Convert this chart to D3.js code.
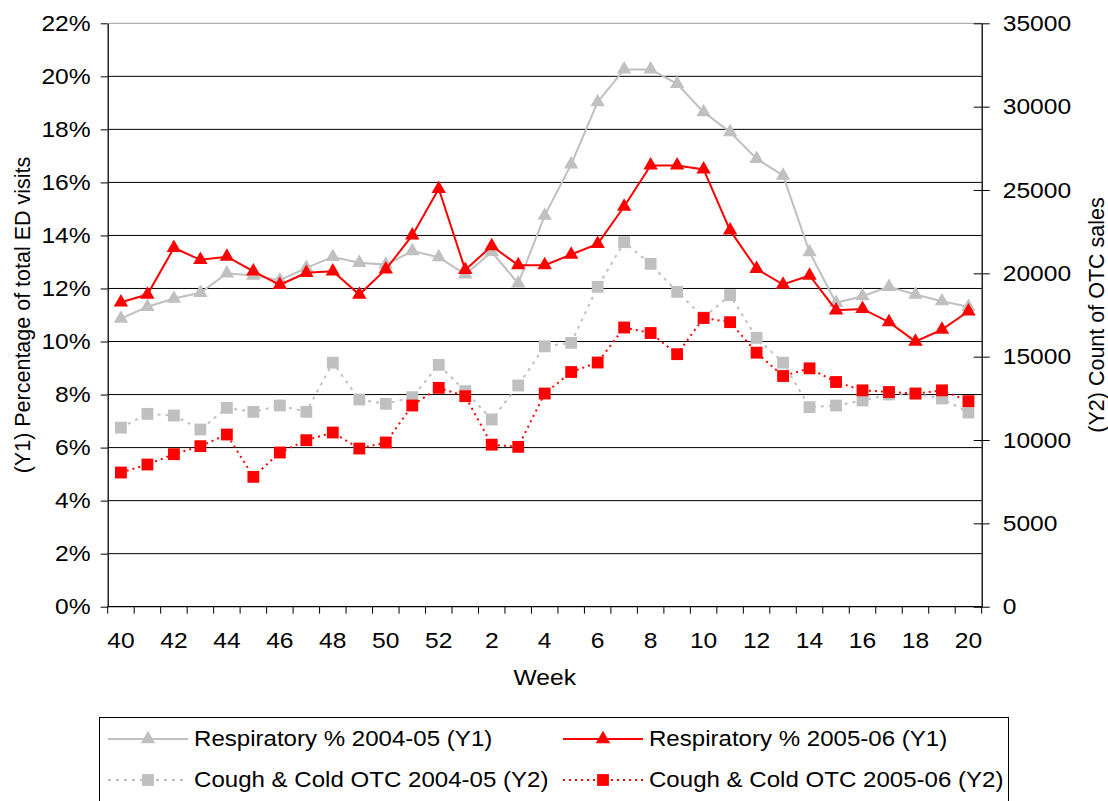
<!doctype html>
<html>
<head>
<style>
    body { margin: 0; background: #fff; }
    svg { font-family: "Liberation Sans", Arial, sans-serif; }
    .grid line { stroke: #000; stroke-width: 1; }
    .axis path, .axis line { stroke: #000; }
    .axis text { font-size: 22px; fill: #000; }
</style>
<script src="https://d3js.org/d3.v7.min.js"></script>
</head>
<body>
<svg width="1108" height="801"></svg>
<script>

    // weeks of the season, 40 -> 52, then 1 -> 20
    var weeks = [40, 41, 42, 43, 44, 45, 46, 47, 48, 49, 50, 51, 52, 1,
                 2, 3, 4, 5, 6, 7, 8, 9, 10, 11, 12, 13, 14, 15, 16, 17, 18, 19, 20];

    var resp0405 = [10.86, 11.31, 11.62, 11.84, 12.57, 12.49, 12.31, 12.78, 13.19, 12.97, 12.9, 13.41, 13.18, 12.53,
                    13.38, 12.19, 14.75, 16.68, 19.03, 20.26, 20.26, 19.72, 18.65, 17.9, 16.89, 16.26, 13.37, 11.46,
                    11.71, 12.06, 11.77, 11.52, 11.31];
    var resp0506 = [11.48, 11.77, 13.53, 13.08, 13.2, 12.65, 12.14, 12.59, 12.65, 11.77, 12.72, 14.0, 15.76, 12.7,
                    13.6, 12.88, 12.88, 13.28, 13.68, 15.09, 16.64, 16.64, 16.49, 14.19, 12.74, 12.15, 12.49, 11.18,
                    11.23, 10.73, 10.0, 10.45, 11.14];
    var otc0405 = [10740, 11570, 11470, 10630, 11930, 11690, 12070, 11690, 14640, 12430, 12170, 12570, 14510, 12930,
                   11230, 13270, 15620, 15830, 19190, 21870, 20570, 18890, 17350, 18690, 16130, 14640, 11970, 12070,
                   12370, 12730, 12780, 12490, 11650];
    var otc0506 = [8050, 8530, 9150, 9630, 10330, 7790, 9250, 9990, 10450, 9490, 9850, 12070, 13130, 12630,
                   9720, 9590, 12790, 14080, 14650, 16750, 16420, 15150, 17320, 17070, 15240, 13840, 14300, 13480,
                   12980, 12880, 12790, 12980, 12330];

    var y1Ticks = [0, 2, 4, 6, 8, 10, 12, 14, 16, 18, 20, 22];
    var y2Ticks = [0, 5000, 10000, 15000, 20000, 25000, 30000, 35000];

    var series = [
        { name: "Respiratory % 2004-05 (Y1)", values: resp0405, axis: "y1", color: "#c0c0c0", dash: null, shape: "tri" },
        { name: "Respiratory % 2005-06 (Y1)", values: resp0506, axis: "y1", color: "#ff0000", dash: null, shape: "tri" },
        { name: "Cough & Cold OTC 2004-05 (Y2)", values: otc0405, axis: "y2", color: "#c0c0c0", dash: "3,5", shape: "sq" },
        { name: "Cough & Cold OTC 2005-06 (Y2)", values: otc0506, axis: "y2", color: "#ff0000", dash: "2,4", shape: "sq" }
    ];

    var svg = d3.select("svg");
    var plotL = 107.7, plotR = 981.7, plotT = 23.3, plotB = 606.7;
    var stretch = 1.12; // reference text is a bit wider than Arial

    // widen a text sideways around its anchor x
    function widen(sel) {
        sel.attr("transform", function() {
            var ax = +d3.select(this).attr("x") || 0;
            return "translate(" + ax + ",0) scale(" + stretch + ",1) translate(" + (-ax) + ",0)";
        });
    }

    var x = d3.scaleBand().domain(weeks.map(String)).range([plotL, plotR]).padding(0);
    var y1 = d3.scaleLinear().domain([0, 22]).range([plotB, plotT]);
    var y2 = d3.scaleLinear().domain([0, 35000]).range([plotB, plotT]);
    var cx = function(i) { return x(String(weeks[i])) + x.bandwidth() / 2; };

    // gridlines
    svg.append("g").attr("class", "grid")
       .selectAll("line").data(y1Ticks.filter(function(d) { return d > 0; }))
       .enter().append("line")
       .attr("x1", plotL).attr("x2", plotR)
       .attr("y1", function(d) { return y1(d); }).attr("y2", function(d) { return y1(d); })
       .style("stroke", function(d) { return d === 22 ? "#999" : "#000"; });

    // left axis
    var gy1 = svg.append("g").attr("class", "axis")
       .attr("transform", "translate(" + plotL + ",0)")
       .call(d3.axisLeft(y1).tickValues(y1Ticks).tickSize(7).tickSizeOuter(0).tickPadding(10)
           .tickFormat(function(d) { return d + "%"; }));
    gy1.select(".domain").attr("stroke-width", 1.3);
    gy1.selectAll("text").call(widen);

    // right axis, ticks crossing the line
    var gy2 = svg.append("g").attr("class", "axis")
       .attr("transform", "translate(" + plotR + ",0)")
       .call(d3.axisRight(y2).tickValues(y2Ticks).tickSize(8).tickSizeOuter(0).tickPadding(13)
           .tickFormat(d3.format("d")));
    gy2.selectAll(".tick line").attr("x1", -8);
    gy2.select(".domain").attr("stroke", "#333").attr("stroke-width", 1.3);
    gy2.selectAll("text").call(widen);

    // bottom axis, ticks on category boundaries
    var gx = svg.append("g").attr("class", "axis")
       .attr("transform", "translate(0," + plotB + ")")
       .call(d3.axisBottom(x).tickSize(0).tickPadding(26)
           .tickFormat(function(d, i) { return i % 2 === 0 ? d : ""; }));
    gx.select(".domain").remove();
    gx.selectAll("text").call(widen);
    gx.append("line").attr("x1", plotL).attr("x2", plotR).attr("stroke", "#000").attr("stroke-width", 1.3);
    gx.selectAll(".bound").data(d3.range(weeks.length + 1))
      .enter().append("line").attr("class", "bound")
      .attr("x1", function(i) { return plotL + i * x.bandwidth(); })
      .attr("x2", function(i) { return plotL + i * x.bandwidth(); })
      .attr("y1", 0).attr("y2", 7).attr("stroke", "#000");

    // axis titles
    svg.append("text").attr("x", (plotL + plotR) / 2).attr("y", 685)
       .attr("text-anchor", "middle").attr("font-size", "22px").text("Week").call(widen);
    svg.append("text").attr("transform", "translate(30," + (plotT + plotB) / 2 + ") rotate(-90)")
       .attr("text-anchor", "middle").attr("font-size", "21.5px").text("(Y1) Percentage of total ED visits");
    svg.append("text").attr("transform", "translate(1104," + (plotT + plotB) / 2 + ") rotate(-90)")
       .attr("text-anchor", "middle").attr("font-size", "21.5px").text("(Y2) Count of OTC sales");

    var tri = d3.symbol().type(d3.symbolTriangle).size(90);
    var sq = d3.symbol().type(d3.symbolSquare).size(140);

    series.forEach(function(s) {
        var ys = s.axis === "y1" ? y1 : y2;
        var line = d3.line().x(function(d, i) { return cx(i); }).y(function(d) { return ys(d); });
        svg.append("path").datum(s.values)
           .attr("fill", "none").attr("stroke", s.color).attr("stroke-width", 2)
           .attr("stroke-dasharray", s.dash)
           .attr("d", line);
        svg.append("g").selectAll("path").data(s.values).enter().append("path")
           .attr("transform", function(d, i) { return "translate(" + cx(i) + "," + ys(d) + ")"; })
           .attr("d", s.shape === "tri" ? tri : sq)
           .attr("fill", s.color);
    });

    // legend
    var lg = svg.append("g");
    lg.append("rect").attr("x", 99.5).attr("y", 717.5).attr("width", 909).attr("height", 100)
      .attr("fill", "#fff").attr("stroke", "#000");
    var colX = [108, 563], rowY = [739, 780];
    series.forEach(function(s, i) {
        var lx = colX[i % 2], ly = rowY[Math.floor(i / 2)];
        lg.append("line").attr("x1", lx).attr("x2", lx + 80).attr("y1", ly).attr("y2", ly)
          .attr("stroke", s.color).attr("stroke-width", 2).attr("stroke-dasharray", s.dash);
        lg.append("path").attr("transform", "translate(" + (lx + 40) + "," + ly + ")")
          .attr("d", s.shape === "tri" ? tri : sq).attr("fill", s.color);
        lg.append("text").attr("x", lx + 86).attr("y", ly + 7.5)
          .attr("font-size", "21.5px").text(s.name).call(widen);
    });

</script>
</body>
</html>
